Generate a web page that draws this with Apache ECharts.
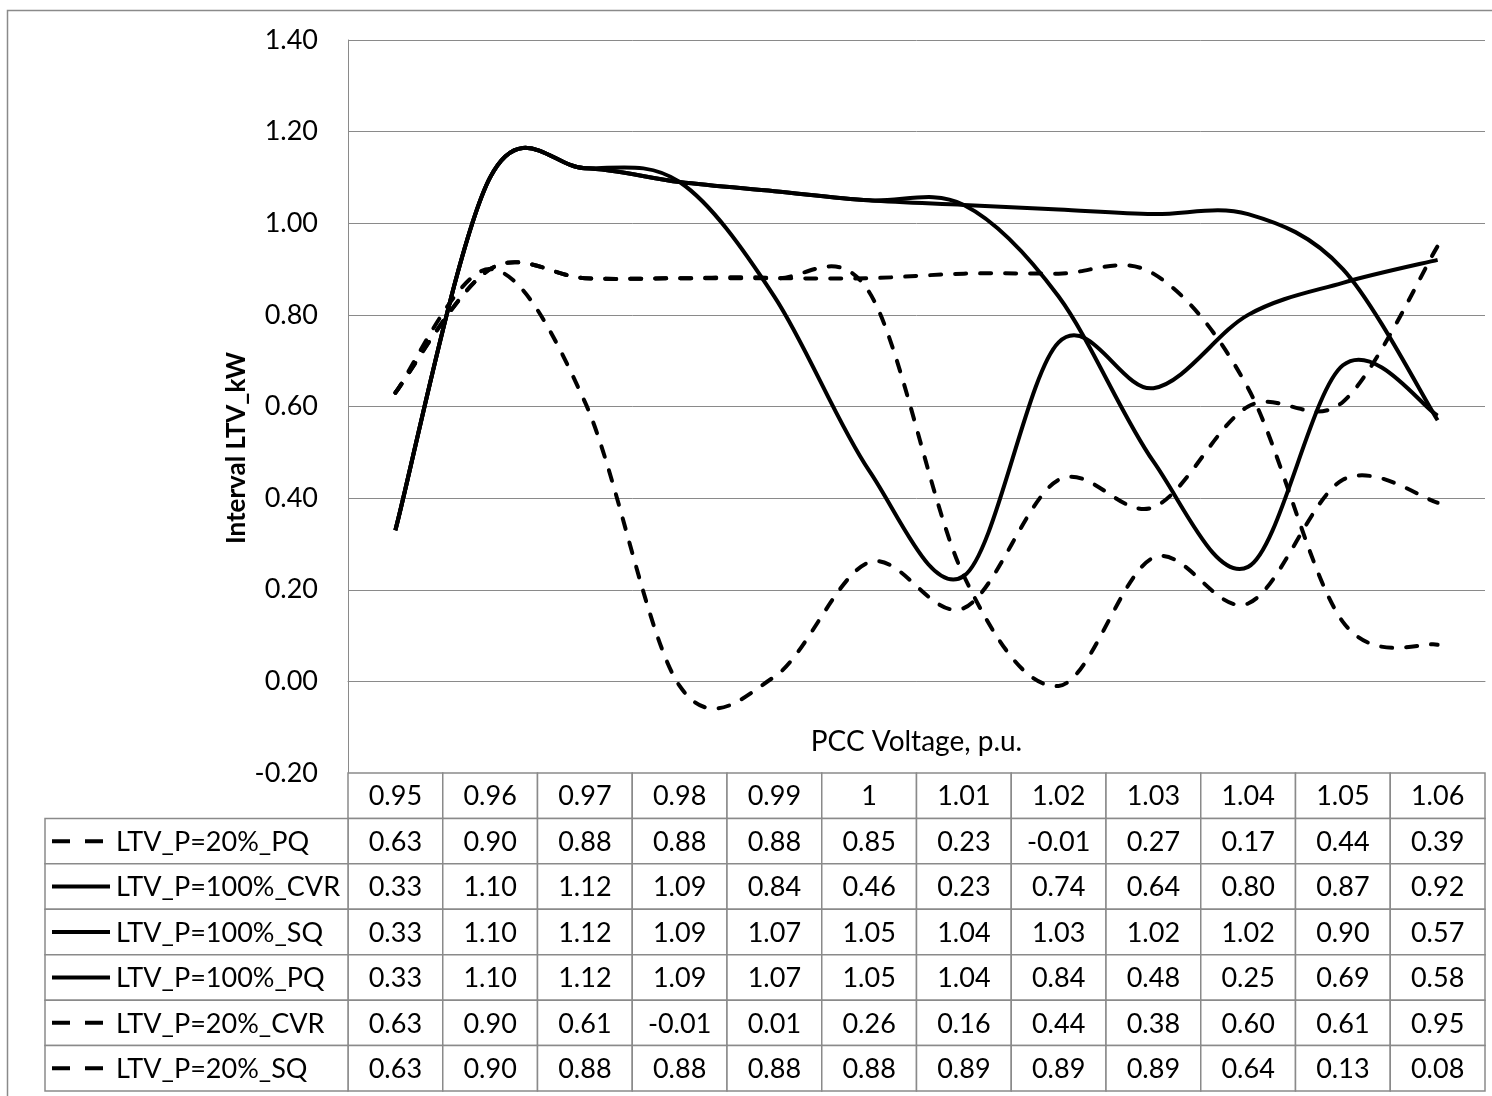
<!DOCTYPE html>
<html>
<head>
<meta charset="utf-8">
<script src="https://cdn.jsdelivr.net/npm/echarts@6/dist/echarts.min.js"></script>
<style>html,body{margin:0;padding:0;background:#fff}#c{width:1492px;height:1096px}</style>
</head>
<body>
<div id="c"></div>
<script>
// ---- data ----
const categories = ['0.95','0.96','0.97','0.98','0.99','1','1.01','1.02','1.03','1.04','1.05','1.06'];
const seriesNames = ['LTV_P=20%_PQ','LTV_P=100%_CVR','LTV_P=100%_SQ','LTV_P=100%_PQ','LTV_P=20%_CVR','LTV_P=20%_SQ'];
const seriesDashed = [true, false, false, false, true, true];
const pq20   = [0.63, 0.90, 0.88, 0.88, 0.88, 0.85, 0.23, -0.01, 0.27, 0.17, 0.44, 0.39];
const cvr100 = [0.33, 1.10, 1.12, 1.09, 0.84, 0.46, 0.23, 0.74, 0.64, 0.80, 0.87, 0.92];
const sq100  = [0.33, 1.10, 1.12, 1.09, 1.07, 1.05, 1.04, 1.03, 1.02, 1.02, 0.90, 0.57];
const pq100  = [0.33, 1.10, 1.12, 1.09, 1.07, 1.05, 1.04, 0.84, 0.48, 0.25, 0.69, 0.58];
const cvr20  = [0.63, 0.90, 0.61, -0.01, 0.01, 0.26, 0.16, 0.44, 0.38, 0.60, 0.61, 0.95];
const sq20   = [0.63, 0.90, 0.88, 0.88, 0.88, 0.88, 0.89, 0.89, 0.89, 0.64, 0.13, 0.08];
const yTicks = { min: -0.2, max: 1.4, interval: 0.2 };

const seriesValues = [pq20, cvr100, sq100, pq100, cvr20, sq20];
const FONT = 'Lato';
const GRID_COLOR = '#8a8a8a';
const NUM_SIZE = 27;
const LEG_SIZE = 27;

// table rows: header + one per series
const rowKeys = ['hdr'].concat(seriesNames);
const tableCells = [];
const tableTexts = [];
categories.forEach((c, i) => { tableCells.push([i, 0]); tableTexts.push(c); });
seriesValues.forEach((arr, r) => {
  arr.forEach((v, i) => { tableCells.push([i, r + 1]); tableTexts.push(v.toFixed(2)); });
});
const legendCells = seriesNames.map((n, r) => [0, r + 1]);

const chart = echarts.init(document.getElementById('c'), null, { renderer: 'canvas' });

// Excel-like smoothed curve (Catmull-Rom style Bezier) through points given by the axis scales
function smoothPath(pts) {
  let d = 'M' + pts[0][0] + ' ' + pts[0][1];
  for (let i = 0; i < pts.length - 1; i++) {
    const p0 = pts[Math.max(0, i - 1)], p1 = pts[i], p2 = pts[i + 1], p3 = pts[Math.min(pts.length - 1, i + 2)];
    const c1x = p1[0] + (p2[0] - p0[0]) / 6, c1y = p1[1] + (p2[1] - p0[1]) / 6;
    const c2x = p2[0] - (p3[0] - p1[0]) / 6, c2y = p2[1] - (p3[1] - p1[1]) / 6;
    d += ' C' + c1x + ' ' + c1y + ' ' + c2x + ' ' + c2y + ' ' + p2[0] + ' ' + p2[1];
  }
  return d;
}

const lineSeries = seriesNames.map((name, k) => ({
  name: name,
  type: 'custom',
  xAxisIndex: 0, yAxisIndex: 0,
  silent: true,
  data: [[0, seriesValues[k][0]]],
  renderItem: function (params, api) {
    const pts = seriesValues[k].map((v, i) => api.coord([i, v]));
    return {
      type: 'path',
      shape: { pathData: smoothPath(pts) },
      style: seriesDashed[k]
        ? { fill: 'none', stroke: '#000', lineWidth: 4, lineDash: [11, 14], lineCap: 'round' }
        : { fill: 'none', stroke: '#000', lineWidth: 4, lineJoin: 'round' }
    };
  }
}));

chart.setOption({
  animation: false,
  backgroundColor: '#fff',
  graphic: [
    { type: 'rect', shape: { x: 7.5, y: 10.5, width: 1500, height: 1100 }, style: { fill: 'none', stroke: GRID_COLOR, lineWidth: 1.5 }, z: -1 },
    { type: 'text', x: 237, y: 448, rotation: Math.PI / 2,
      style: { text: 'Interval LTV_kW', fontFamily: FONT, fontWeight: 'bold', fontSize: 26, fill: '#000', align: 'center', verticalAlign: 'middle' } }
  ],
  grid: [
    { left: 348, right: 7, top: 40, height: 733 },
    { left: 348, right: 7, top: 773, height: 318 },
    { left: 45, width: 303, top: 773, height: 318 }
  ],
  xAxis: [
    { type: 'category', gridIndex: 0, data: categories, boundaryGap: true,
      axisLine: { show: true, lineStyle: { color: GRID_COLOR, width: 1 } },
      axisTick: { show: false }, axisLabel: { show: false }, splitLine: { show: false },
      name: 'PCC Voltage, p.u.', nameLocation: 'middle', nameGap: -45,
      nameTextStyle: { fontFamily: FONT, fontSize: 28, color: '#000' } },
    { type: 'category', gridIndex: 1, data: categories, boundaryGap: true,
      axisLine: { show: false }, axisTick: { show: false }, axisLabel: { show: false }, splitLine: { show: false } },
    { type: 'category', gridIndex: 2, data: ['key'], boundaryGap: true,
      axisLine: { show: false }, axisTick: { show: false }, axisLabel: { show: false }, splitLine: { show: false } }
  ],
  yAxis: [
    { type: 'value', gridIndex: 0, min: yTicks.min, max: yTicks.max, interval: yTicks.interval,
      axisLine: { show: true, lineStyle: { color: GRID_COLOR, width: 1 } },
      axisTick: { show: false },
      axisLabel: { margin: 30, fontFamily: FONT, fontSize: NUM_SIZE, color: '#000', formatter: v => v.toFixed(2) },
      splitLine: { show: true, lineStyle: { color: GRID_COLOR, width: 1 } } },
    { type: 'category', gridIndex: 1, data: rowKeys, inverse: true,
      axisLine: { show: false }, axisTick: { show: false }, axisLabel: { show: false }, splitLine: { show: false } },
    { type: 'category', gridIndex: 2, data: rowKeys, inverse: true,
      axisLine: { show: false }, axisTick: { show: false }, axisLabel: { show: false }, splitLine: { show: false } }
  ],
  series: lineSeries.concat([
    {
      type: 'custom', xAxisIndex: 1, yAxisIndex: 1, silent: true,
      data: tableCells,
      renderItem: function (params, api) {
        const c = api.coord([api.value(0), api.value(1)]);
        const s = api.size([1, 1]);
        return { type: 'group', children: [
          { type: 'rect', shape: { x: c[0] - s[0] / 2, y: c[1] - s[1] / 2, width: s[0], height: s[1] },
            style: { fill: '#fff', stroke: GRID_COLOR, lineWidth: 1.5 } },
          { type: 'text', style: { text: tableTexts[params.dataIndex], x: c[0], y: c[1] + 1,
            align: 'center', verticalAlign: 'middle', fontFamily: FONT, fontSize: NUM_SIZE, fill: '#000' } }
        ] };
      }
    },
    {
      type: 'custom', xAxisIndex: 2, yAxisIndex: 2, silent: true,
      data: legendCells,
      renderItem: function (params, api) {
        const c = api.coord([api.value(0), api.value(1)]);
        const s = api.size([1, 1]);
        const x0 = c[0] - s[0] / 2;
        const k = params.dataIndex;
        const dashed = seriesDashed[k];
        return { type: 'group', children: [
          { type: 'rect', shape: { x: x0, y: c[1] - s[1] / 2, width: s[0], height: s[1] },
            style: { fill: '#fff', stroke: GRID_COLOR, lineWidth: 1.5 } },
          { type: 'line', shape: { x1: x0 + 7, y1: c[1], x2: x0 + (dashed ? 58 : 65), y2: c[1] },
            style: { stroke: '#000', lineWidth: 4, lineDash: dashed ? [18, 15] : null } },
          { type: 'text', style: { text: seriesNames[k], x: x0 + 71, y: c[1] + 1,
            align: 'left', verticalAlign: 'middle', fontFamily: FONT, fontSize: LEG_SIZE, fill: '#000' } }
        ] };
      }
    }
  ])
});
</script>
</body>
</html>
